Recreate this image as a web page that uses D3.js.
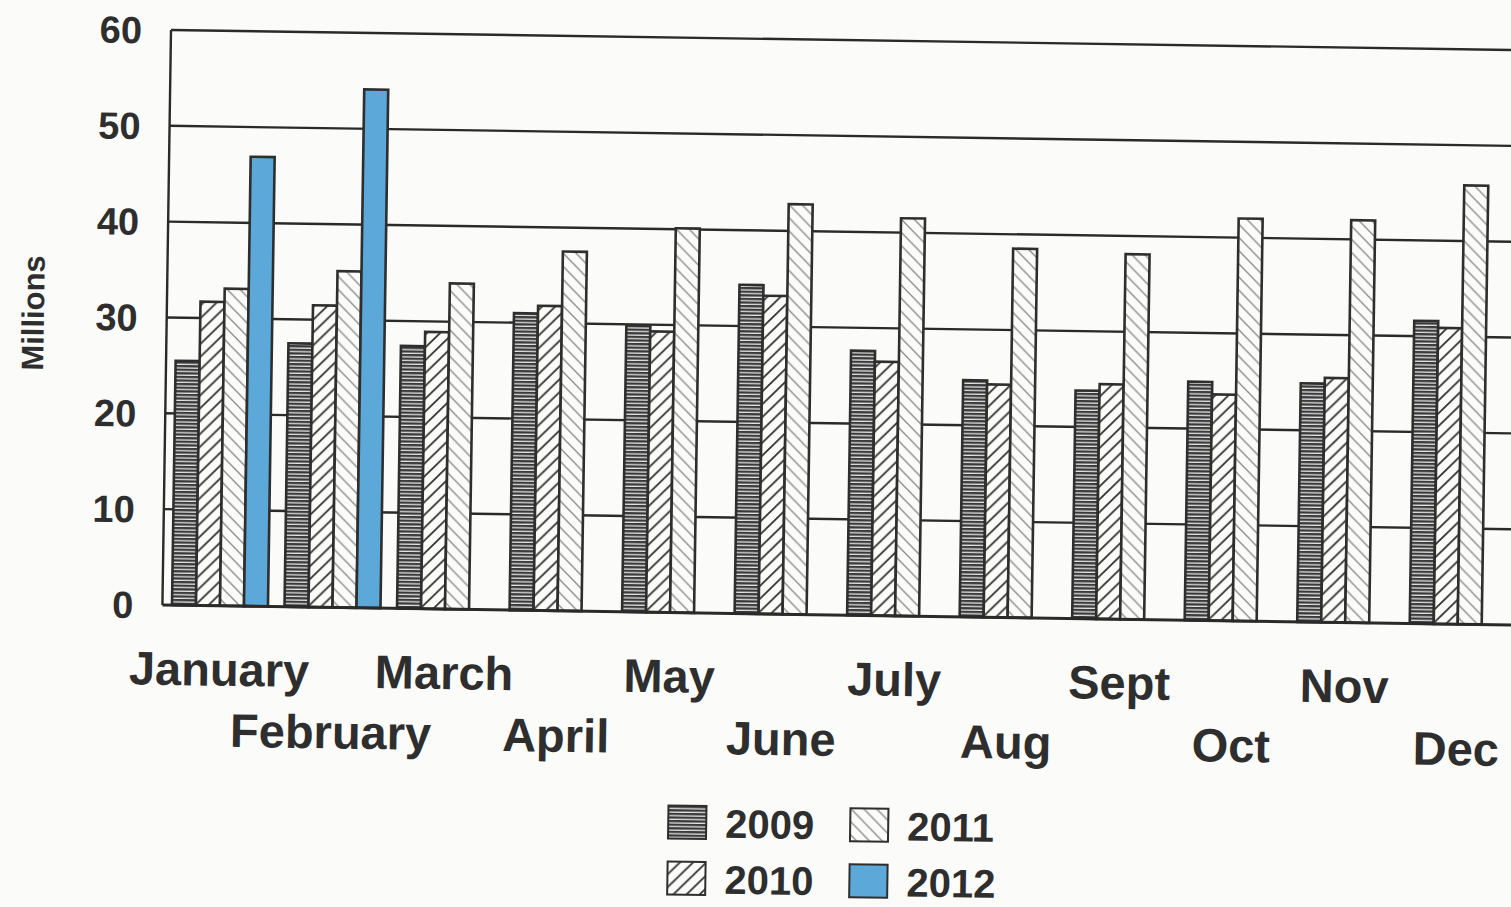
<!DOCTYPE html>
<html>

<head>
  <script type="text/javascript" src="https://d3js.org/d3.v7.min.js"></script>
  <style>
    body { margin: 0; background: #fbfbf9; }
    text { font-family: "Liberation Sans", Arial, sans-serif; font-weight: bold; fill: #2e2e2e; }
  </style>
</head>

<body>
  <script>
    // months and yearly values (millions)
    var months = ["January", "February", "March", "April", "May", "June",
      "July", "Aug", "Sept", "Oct", "Nov", "Dec"];
    var years = ["2009", "2010", "2011", "2012"];
    var v2009 = [25.5, 27.5, 27.4, 31.0, 29.9, 34.3, 27.6, 24.7, 23.8, 24.9, 24.9, 31.6];
    var v2010 = [31.7, 31.5, 28.9, 31.8, 29.3, 33.2, 26.5, 24.3, 24.5, 23.6, 25.5, 30.9];
    var v2011 = [33.1, 35.1, 34.0, 37.5, 40.1, 42.8, 41.5, 38.5, 38.1, 42.0, 42.0, 45.8];
    var v2012 = [46.9, 54.1, null, null, null, null, null, null, null, null, null, null];
    var yTicks = [0, 10, 20, 30, 40, 50, 60];

    var series = { "2009": v2009, "2010": v2010, "2011": v2011, "2012": v2012 };

    // plot size (scan is tilted a little, so the whole chart is rotated)
    var width = 1353, height = 575;

    var svg = d3.select("body").append("svg")
      .attr("width", 1511)
      .attr("height", 907);

    var defs = svg.append("defs");

    // 2009: dense horizontal lines
    var p1 = defs.append("pattern").attr("id", "p2009")
      .attr("patternUnits", "userSpaceOnUse").attr("width", 8).attr("height", 3.6);
    p1.append("rect").attr("width", 8).attr("height", 3.6).attr("fill", "#e4e4e4");
    p1.append("rect").attr("width", 8).attr("height", 2.3).attr("fill", "#3a3a3a");

    // 2010: forward diagonal hatching
    var p2 = defs.append("pattern").attr("id", "p2010")
      .attr("patternUnits", "userSpaceOnUse").attr("width", 13).attr("height", 13);
    p2.append("rect").attr("width", 13).attr("height", 13).attr("fill", "#fbfbf9");
    p2.append("path").attr("d", "M0,13 L13,0 M-3,3 L3,-3 M10,16 L16,10")
      .attr("stroke", "#2e2e2e").attr("stroke-width", 1.7);

    // 2011: backward diagonal, lighter
    var p3 = defs.append("pattern").attr("id", "p2011")
      .attr("patternUnits", "userSpaceOnUse").attr("width", 13).attr("height", 13);
    p3.append("rect").attr("width", 13).attr("height", 13).attr("fill", "#fbfbf9");
    p3.append("path").attr("d", "M0,0 L13,13 M-3,10 L3,16 M10,-3 L16,3")
      .attr("stroke", "#888").attr("stroke-width", 1.3);

    var fills = { "2009": "url(#p2009)", "2010": "url(#p2010)", "2011": "url(#p2011)", "2012": "#5ca9d9" };

    var g = svg.append("g")
      .attr("transform", "translate(171,30) rotate(0.855)");

    var x0 = d3.scaleBand().domain(months).range([0, width])
      .paddingInner(0.147).paddingOuter(0.085);
    var x1 = d3.scaleBand().domain(years).range([0, x0.bandwidth()]);
    var y = d3.scaleLinear().domain([0, 60]).range([height, 0]);

    // gridlines
    g.selectAll(".grid").data(yTicks.filter(function (d) { return d > 0; }))
      .enter().append("line")
      .attr("x1", 0).attr("x2", width)
      .attr("y1", function (d) { return y(d); })
      .attr("y2", function (d) { return y(d); })
      .attr("stroke", "#2a2a2a").attr("stroke-width", 2.4);

    // y labels
    g.selectAll(".ylab").data(yTicks).enter().append("text")
      .attr("x", -29).attr("y", function (d) { return y(d); })
      .attr("dy", "0.36em")
      .attr("text-anchor", "end")
      .style("font-size", "38px")
      .text(function (d) { return d; });

    // bars
    var groups = g.selectAll(".month").data(months).enter().append("g")
      .attr("transform", function (d) { return "translate(" + x0(d) + ",0)"; });

    groups.selectAll("rect")
      .data(function (m, i) {
        return years.map(function (yr) { return { year: yr, value: series[yr][i] }; })
          .filter(function (d) { return d.value != null; });
      })
      .enter().append("rect")
      .attr("x", function (d) { return x1(d.year); })
      .attr("y", function (d) { return y(d.value); })
      .attr("width", x1.bandwidth())
      .attr("height", function (d) { return height - y(d.value); })
      .attr("fill", function (d) { return fills[d.year]; })
      .attr("stroke", "#2e2e2e").attr("stroke-width", 2.6);

    // axis lines
    g.append("line").attr("x1", 0).attr("x2", 0).attr("y1", 0).attr("y2", height)
      .attr("stroke", "#2a2a2a").attr("stroke-width", 2.4);
    g.append("line").attr("x1", 0).attr("x2", width).attr("y1", height).attr("y2", height)
      .attr("stroke", "#2a2a2a").attr("stroke-width", 3);

    // month labels in two staggered rows
    g.selectAll(".mlab").data(months).enter().append("text")
      .attr("x", function (d) { return x0(d) + x0.bandwidth() / 2; })
      .attr("y", function (d, i) { return height + (i % 2 === 0 ? 63 : 124); })
      .attr("dy", "0.36em")
      .attr("text-anchor", "middle")
      .style("font-size", "47px")
      .text(function (d) { return d; });

    // y axis title
    g.append("text")
      .attr("transform", "translate(-134,285) rotate(-90)")
      .attr("dy", "0.36em")
      .attr("text-anchor", "middle")
      .style("font-size", "31px")
      .text("Millions");

    // legend, 2 x 2
    var legend = g.selectAll(".leg").data(years).enter().append("g")
      .attr("transform", function (d, i) {
        return "translate(" + (i < 2 ? 509 : 691) + "," + (i % 2 === 0 ? 768 : 824) + ")";
      });
    legend.append("rect")
      .attr("width", 38).attr("height", 33)
      .attr("fill", function (d) { return fills[d]; })
      .attr("stroke", "#2e2e2e").attr("stroke-width", 2);
    legend.append("text")
      .attr("x", 57).attr("y", 17).attr("dy", "0.36em")
      .style("font-size", "40px")
      .text(function (d) { return d; });
  </script>
</body>

</html>
